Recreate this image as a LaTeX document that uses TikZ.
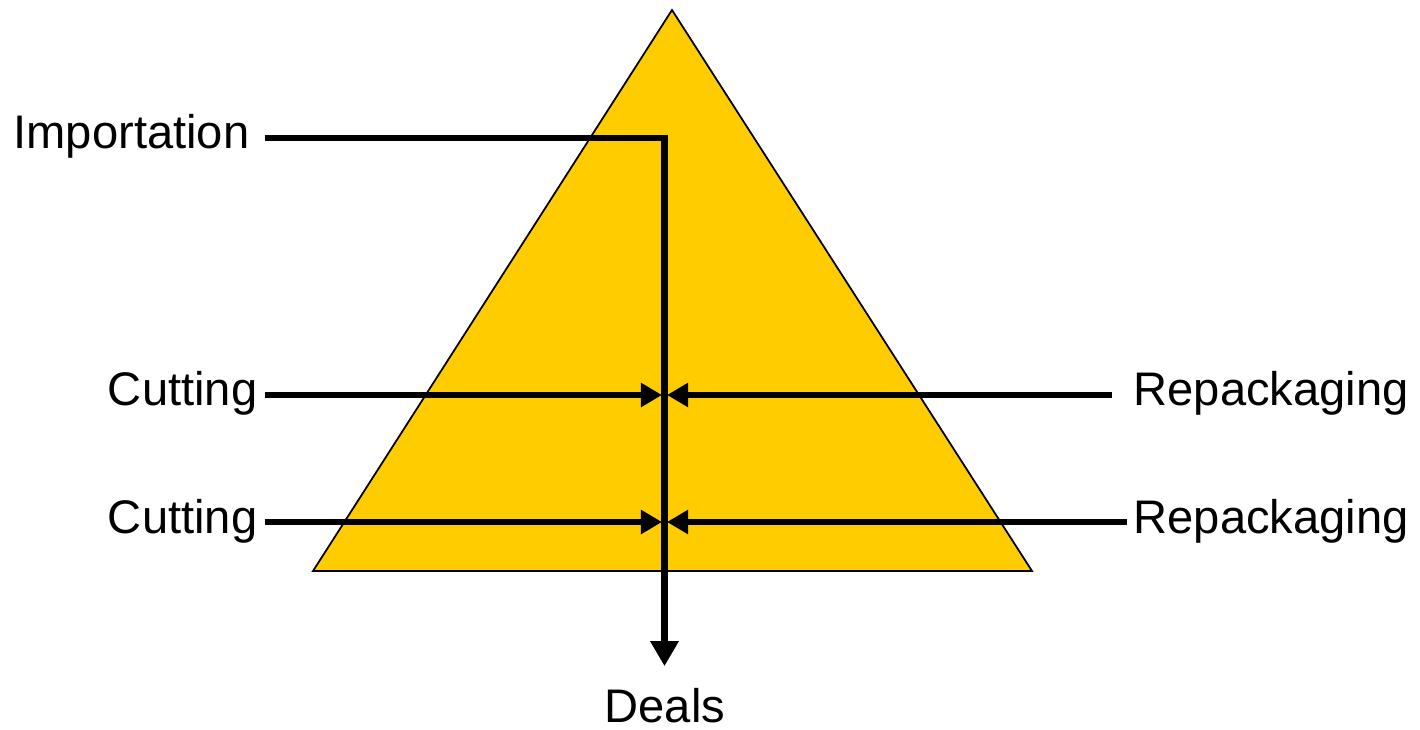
\documentclass[tikz,border=0pt]{standalone}
\usepackage{fontspec}
\setmainfont{Liberation Sans}
\usetikzlibrary{arrows.meta, positioning, calc}
\definecolor{mGold}{HTML}{FFCC00}

\begin{document}
\begin{tikzpicture}[x=0.01cm, y=-0.01cm, font=\fontsize{13.4}{16}\selectfont,
    flow/.style={line width=0.065cm},
    sidetip/.style={-{Triangle[length=0.21cm, width=0.23cm]}, shorten >=0.025cm},
    downtip/.style={-{Triangle[length=0.25cm, width=0.27cm]}, shorten >=0.21cm}]
    \useasboundingbox (0,0) rectangle (1420,729);
    % pyramid
    \draw[fill=mGold, line width=0.5pt] (672,10) -- (1032,571) -- (313,571) -- cycle;
    % labels
    \node[anchor=base east, inner ysep=0, inner xsep=0.15cm] (imp) at (265,148) {Importation};
    \foreach \y/\i/\rx/\rs in {405/1/1112/0.21cm, 533/2/1127/0.06cm} {
      \node[anchor=base east, inner ysep=0, inner xsep=0.07cm] (cut\i) at (265,\y) {Cutting};
      \node[anchor=base west, inner ysep=0, inner xsep=\rs] (rep\i) at (\rx,\y) {Repackaging};
    }
    \node[anchor=base, inner sep=0] (deals) at (665,722) {Deals};
    % junctions on the stem
    \coordinate (bend) at (664.5,138);
    \coordinate (j1) at (664.5,395);
    \coordinate (j2) at (664.5,522);
    % flows
    \draw[flow, downtip] (imp.east |- bend) -- (bend) -- (bend |- deals.north);
    \foreach \i in {1,2} {
      \draw[flow, sidetip] (cut\i.east |- j\i) -- (j\i);
      \draw[flow, sidetip] (rep\i.west |- j\i) -- (j\i);
    }
\end{tikzpicture}
\end{document}
